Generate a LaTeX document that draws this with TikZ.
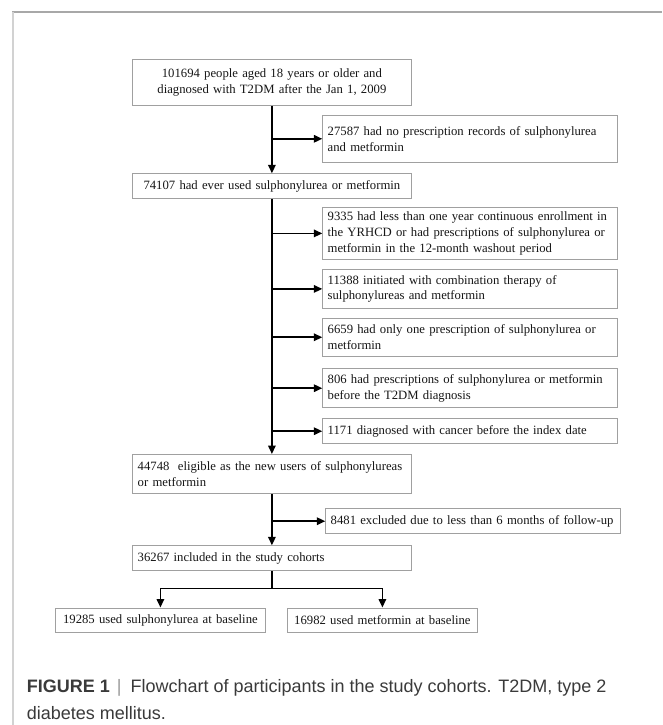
\documentclass[tikz,border=0pt]{standalone}
\usepackage{fontspec}
\setmainfont{Liberation Serif}
\newfontfamily\capfont{Liberation Sans}
\usetikzlibrary{arrows.meta}
\definecolor{boxgrey}{HTML}{A0A0A0}
\definecolor{framedark}{HTML}{A8A8A8}
\definecolor{framelight}{HTML}{D2D2D2}
\definecolor{captext}{HTML}{3A3A3A}
\definecolor{barcol}{HTML}{9A9A9A}
\definecolor{textblack}{HTML}{161616}
\newcommand{\boxfont}{\fontsize{12.7}{15.7}\selectfont\hyphenpenalty=10000\exhyphenpenalty=10000}
\tikzset{
  box/.style={draw=boxgrey, line width=0.8pt, inner xsep=4pt, inner ysep=0pt,
    anchor=north west, font=\boxfont, text=textblack},
  arr/.style={line width=1.7pt, draw=black, -{Triangle[length=8.5pt,width=7.5pt]}},
  plain/.style={line width=1.7pt, draw=black},
  capstyle/.style={anchor=base west, inner sep=0pt, text=captext,
    font=\capfont\fontsize{18}{27}\selectfont}
}
\begin{document}
\begin{tikzpicture}[x=1pt,y=-1pt]
\useasboundingbox (0,0) rectangle (662,725);
\fill[white] (0,0) rectangle (662,725);
% frame
\draw[framedark, line width=1.3pt] (12,12) -- (662,12);
\draw[framelight, line width=2pt] (12.7,12) -- (12.7,725);

% main column boxes
\node[box, minimum width=278.4pt, minimum height=45.7pt, text width=270.4pt, align=center]
  (b1) at (132.3,59.3) {101694 people aged 18 years or older and\\diagnosed with T2DM after the Jan 1, 2009};
\node[box, minimum width=278.4pt, minimum height=24.7pt, text width=270.4pt, align=center]
  (b2) at (132.3,173.3) {74107 had ever used sulphonylurea or metformin};
\node[box, minimum width=278.4pt, minimum height=39.3pt, text width=270.4pt, align=left]
  (b3) at (132.3,454) {\hspace{1pt}44748\ \ eligible as the new users of sulphonylureas\\\hspace{1pt}or metformin};
\node[box, minimum width=278.4pt, minimum height=25pt, text width=270.4pt, align=left]
  (b4) at (132.3,545.3) {\hspace{1pt}36267 included in the study cohorts};

% exclusion boxes
\node[box, minimum width=294.4pt, minimum height=46.2pt, text width=286.4pt, align=left]
  (r0) at (322.3,115.3) {\hspace{1pt}27587 had no prescription records of sulphonylurea\\\hspace{1pt}and metformin};
\node[box, minimum width=294.4pt, minimum height=52.6pt, text width=286.4pt, align=left]
  (r1) at (322.3,206.7) {\hspace{1pt}9335 had less than one year continuous enrollment in\\\hspace{1pt}the YRHCD or had prescriptions of sulphonylurea or\\\hspace{1pt}metformin in the 12-month washout period};
\node[box, minimum width=294.4pt, minimum height=38.4pt, text width=286.4pt, align=left]
  (r2) at (322.3,269.3) {\hspace{1pt}11388 initiated with combination therapy of\\\hspace{1pt}sulphonylureas and metformin};
\node[box, minimum width=294.4pt, minimum height=38.3pt, text width=286.4pt, align=left]
  (r3) at (322.3,317.7) {\hspace{1pt}6659 had only one prescription of sulphonylurea or\\\hspace{1pt}metformin};
\node[box, minimum width=294.4pt, minimum height=39pt, text width=286.4pt, align=left]
  (r4) at (322.3,368.3) {\hspace{1pt}806 had prescriptions of sulphonylurea or metformin\\\hspace{1pt}before the T2DM diagnosis};
\node[box, minimum width=294.4pt, minimum height=25pt, text width=286.4pt, align=left]
  (r5) at (322.3,418.3) {\hspace{1pt}1171 diagnosed with cancer before the index date};
\node[box, minimum width=294.4pt, minimum height=25pt, text width=286.4pt, align=left]
  (r6) at (325.3,508.3) {\hspace{1pt}8481 excluded due to less than 6 months of follow-up};

% final boxes
\node[box, minimum width=209.4pt, minimum height=24.8pt, text width=201.4pt, align=center]
  (bl) at (55.3,607.5) {19285 used sulphonylurea at baseline};
\node[box, minimum width=189.4pt, minimum height=24.8pt, text width=181.4pt, align=center]
  (br) at (287.3,607.5) {16982 used metformin at baseline};

% connectors
\draw[arr] (b1.south) -- (b2.north);
\draw[arr] (b1.south |- r0.west) -- (r0.west);
\draw[arr] (b2.south) -- (b3.north);
\draw[arr] (b2.south |- r1.west) -- (r1.west);
\draw[arr] (b2.south |- r2.west) -- (r2.west);
\draw[arr] (b2.south |- r3.west) -- (r3.west);
\draw[arr] (b2.south |- r4.west) -- (r4.west);
\draw[arr] (b2.south |- r5.west) -- (r5.west);
\draw[arr] (b3.south) -- (b4.north);
\draw[arr] (b3.south |- r6.west) -- (r6.west);
\coordinate (split) at ([yshift=-17.4pt]b4.south);
\draw[plain] (b4.south) -- (split);
\draw[arr] (split) -| (bl.north);
\draw[arr] (split) -| (br.north);

% caption
\node[capstyle] (cap1) at (26.7,692) {\textbf{FIGURE 1}\hspace{7pt}{\color{barcol}|}\hspace{9pt}Flowchart of participants in the study cohorts. T2DM, type 2};
\node[capstyle] (cap2) at (26.7,719) {diabetes mellitus.};
\end{tikzpicture}
\end{document}
